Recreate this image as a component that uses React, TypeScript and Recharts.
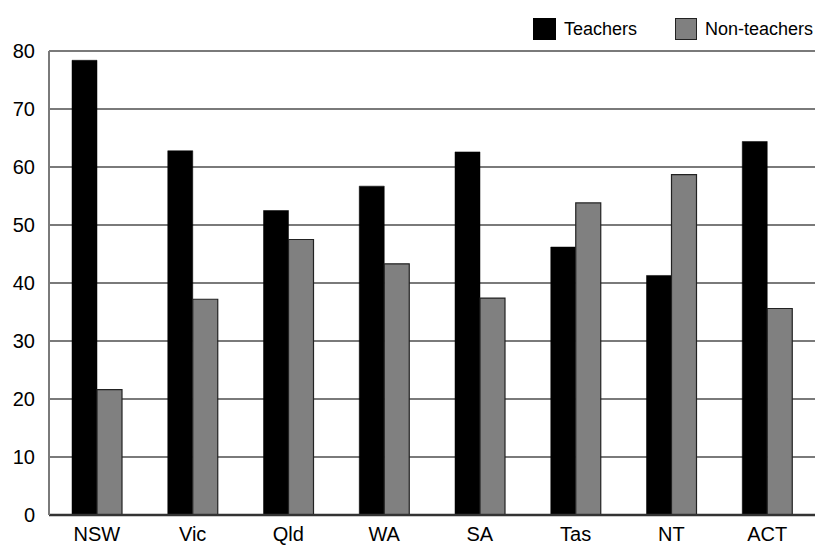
import React from 'react';
import { BarChart, Bar, XAxis, YAxis, CartesianGrid, Legend } from 'recharts';

const states = ['NSW', 'Vic', 'Qld', 'WA', 'SA', 'Tas', 'NT', 'ACT'];
const teachers = [78.4, 62.8, 52.5, 56.7, 62.6, 46.2, 41.3, 64.4];
const nonTeachers = [21.6, 37.2, 47.5, 43.3, 37.4, 53.8, 58.7, 35.6];
const yTicks = [0, 10, 20, 30, 40, 50, 60, 70, 80];

const data = states.map((s, i) => ({ state: s, teachers: teachers[i], nonTeachers: nonTeachers[i] }));

const FONT = '"Liberation Sans", Arial, sans-serif';

const LegendContent = () => (
  <div style={{ display: 'flex', alignItems: 'center', fontFamily: FONT, fontSize: 18, color: '#000' }}>
    <div style={{ width: 23, height: 22, background: '#000', boxSizing: 'border-box' }} />
    <span style={{ marginLeft: 8 }}>Teachers</span>
    <div style={{ width: 22, height: 22, background: '#808080', border: '1.5px solid #222', boxSizing: 'border-box', marginLeft: 38 }} />
    <span style={{ marginLeft: 8 }}>Non-teachers</span>
  </div>
);

export default function App() {
  return (
    <div style={{ position: 'absolute', left: 0, top: 0, background: '#fff' }}>
      <BarChart
        width={818}
        height={546}
        data={data}
        margin={{ top: 51, right: 3, bottom: 0, left: 0 }}
        barGap={0}
        barSize={25}
      >
        <CartesianGrid yAxisId="left" horizontal vertical={false} stroke="#7a7a7a" strokeWidth={2} />
        <XAxis
          dataKey="state"
          height={31}
          tickLine={false}
          tickSize={0}
          tickMargin={12}
          axisLine={{ stroke: '#333', strokeWidth: 2.5 }}
          tick={{ fill: '#000', fontSize: 20, fontFamily: FONT }}
          interval={0}
        />
        <YAxis
          yAxisId="left"
          domain={[0, 80]}
          ticks={yTicks}
          width={49}
          tickLine={false}
          tickSize={0}
          tickMargin={14}
          axisLine={{ stroke: '#7a7a7a', strokeWidth: 2 }}
          tick={{ fill: '#000', fontSize: 20, fontFamily: FONT }}
          interval={0}
        />
        <YAxis
          yAxisId="right"
          orientation="right"
          domain={[0, 80]}
          width={0}
          tick={false}
          tickLine={false}
          axisLine={{ stroke: '#7a7a7a', strokeWidth: 2 }}
        />
        <Legend
          layout="horizontal"
          verticalAlign="middle"
          align="center"
          content={<LegendContent />}
          wrapperStyle={{ position: 'absolute', top: 18, left: 533, width: 'auto', height: 'auto' }}
        />
        <Bar yAxisId="left" dataKey="teachers" name="Teachers" fill="#000" stroke="#000" strokeWidth={0.5} isAnimationActive={false} />
        <Bar yAxisId="left" dataKey="nonTeachers" name="Non-teachers" fill="#808080" stroke="#222" strokeWidth={1.2} isAnimationActive={false} />
      </BarChart>
    </div>
  );
}
